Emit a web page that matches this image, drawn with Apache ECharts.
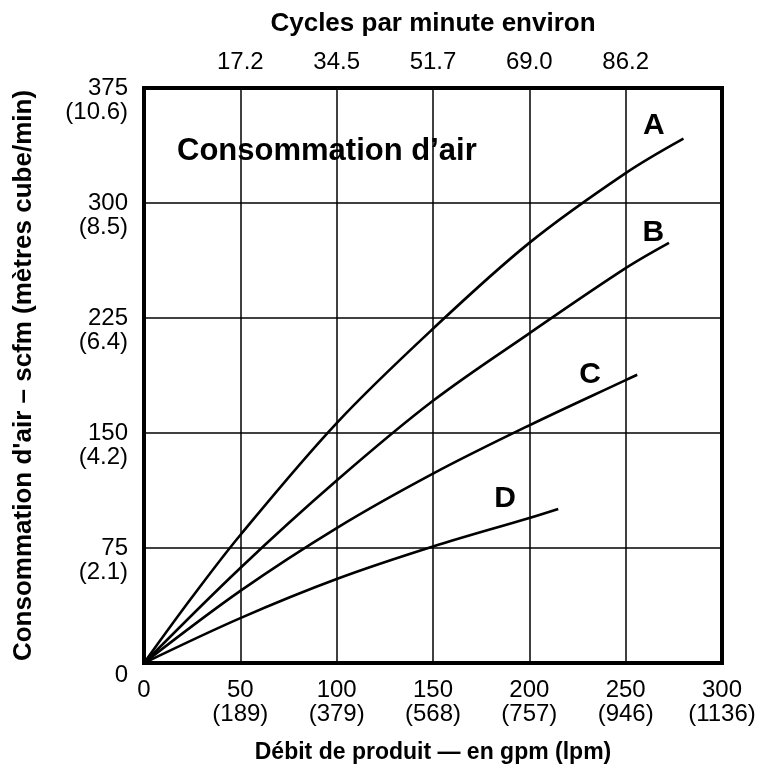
<!DOCTYPE html>
<html>
<head>
<meta charset="utf-8">
<script src="https://cdn.jsdelivr.net/npm/echarts@6/dist/echarts.min.js"></script>
<style>
  html, body { margin: 0; padding: 0; background: #fff; }
  #chart { width: 762px; height: 776px; }
</style>
</head>
<body>
<div id="chart"></div>
<script>
// Product flow (gpm) on x, air consumption (scfm) on y
const gpmTicks = [0, 50, 100, 150, 200, 250, 300];
const lpmLabels = ['', '(189)', '(379)', '(568)', '(757)', '(946)', '(1136)'];
const cycleLabels = ['', '17.2', '34.5', '51.7', '69.0', '86.2', ''];
const scfmTicks = [0, 75, 150, 225, 300, 375];
const m3Labels = ['', '(2.1)', '(4.2)', '(6.4)', '(8.5)', '(10.6)'];

const curveNames = ['A', 'B', 'C', 'D'];
const curveA = [[0, 0], [25, 43], [50, 83.5], [100, 156.5], [150, 218], [200, 274], [250, 319.5], [280, 342]];
const curveB = [[0, 0], [50, 62], [100, 119], [150, 171], [200, 215], [250, 257.5], [272.5, 274]];
const curveC = [[0, 0], [50, 47], [100, 88], [150, 123.5], [200, 155], [250, 184.5], [256, 188]];
const curveD = [[0, 0], [50, 29.3], [100, 54.8], [150, 76], [200, 94.6], [215, 100.5]];
// letter tag anchor for each curve (data coordinates)
const tagAnchors = [[264.6, 350.4], [264.4, 280.3], [231.5, 187.8], [187.4, 107.4]];

const FONT = "'Liberation Sans', Arial, Helvetica, sans-serif";
const curves = [curveA, curveB, curveC, curveD];

const chart = echarts.init(document.getElementById('chart'), null, { renderer: 'canvas' });

const series = curves.map((pts, i) => ({
  name: curveNames[i],
  type: 'line',
  data: pts,
  smooth: 0.35,
  showSymbol: false,
  symbol: 'none',
  lineStyle: { color: '#000', width: 2.6 },
  z: 5,
  markPoint: {
    symbol: 'circle',
    symbolSize: 0,
    silent: true,
    data: [{ coord: tagAnchors[i], value: curveNames[i] }],
    label: {
      show: true,
      position: 'inside',
      formatter: curveNames[i],
      color: '#000',
      fontFamily: FONT,
      fontWeight: 'bold',
      fontSize: 30
    }
  }
}));

chart.setOption({
  animation: false,
  backgroundColor: '#fff',
  textStyle: { fontFamily: FONT },
  title: {
    text: 'Consommation d\u2019air',
    left: 177,
    top: 136,
    padding: 0,
    textStyle: { fontFamily: FONT, fontWeight: 'bold', fontSize: 31, lineHeight: 31, color: '#000' }
  },
  grid: {
    left: 144, top: 88, width: 578, height: 575,
    show: true,
    borderColor: '#000',
    borderWidth: 4,
    backgroundColor: 'transparent'
  },
  xAxis: [
    {
      type: 'value',
      position: 'bottom',
      min: 0, max: 300, interval: 50,
      name: 'Débit de produit — en gpm (lpm)',
      nameLocation: 'middle',
      nameGap: 78,
      nameTextStyle: { fontFamily: FONT, fontWeight: 'bold', fontSize: 23, color: '#000' },
      axisLine: { show: false },
      axisTick: { show: false },
      splitLine: { show: true, lineStyle: { color: '#000', width: 1.5 } },
      axisLabel: {
        margin: 15,
        color: '#000',
        fontFamily: FONT,
        fontSize: 24,
        lineHeight: 24,
        verticalAlign: 'top',
        showMinLabel: true,
        showMaxLabel: true,
        hideOverlap: false,
        formatter: v => {
          const i = gpmTicks.indexOf(v);
          return lpmLabels[i] ? v + '\n' + lpmLabels[i] : String(v);
        }
      }
    },
    {
      type: 'value',
      position: 'top',
      min: 0, max: 300, interval: 50,
      name: 'Cycles par minute environ',
      nameLocation: 'middle',
      nameGap: 51,
      nameTextStyle: { fontFamily: FONT, fontWeight: 'bold', fontSize: 26, color: '#000' },
      axisLine: { show: false },
      axisTick: { show: false },
      splitLine: { show: false },
      axisLabel: {
        margin: 14,
        color: '#000',
        fontFamily: FONT,
        fontSize: 24,
        lineHeight: 24,
        formatter: v => cycleLabels[gpmTicks.indexOf(v)] || ''
      }
    }
  ],
  yAxis: [
    {
      type: 'value',
      min: 0, max: 375, interval: 75,
      name: "Consommation d'air – scfm (mètres cube/min)",
      nameLocation: 'middle',
      nameGap: 107,
      nameRotate: 90,
      nameTextStyle: { fontFamily: FONT, fontWeight: 'bold', fontSize: 26, color: '#000' },
      axisLine: { show: false },
      axisTick: { show: false },
      splitLine: { show: true, lineStyle: { color: '#000', width: 1.5 } },
      axisLabel: {
        margin: 16,
        color: '#000',
        fontFamily: FONT,
        fontSize: 24,
        lineHeight: 24,
        align: 'right',
        verticalAlign: 'middle',
        showMinLabel: true,
        showMaxLabel: true,
        hideOverlap: false,
        // a leading blank line keeps the scfm value level with its grid line
        formatter: v => {
          const i = scfmTicks.indexOf(v);
          return m3Labels[i] ? '\n' + v + '\n' + m3Labels[i] : '\n' + v;
        }
      }
    }
  ],
  series: series
});
</script>
</body>
</html>
